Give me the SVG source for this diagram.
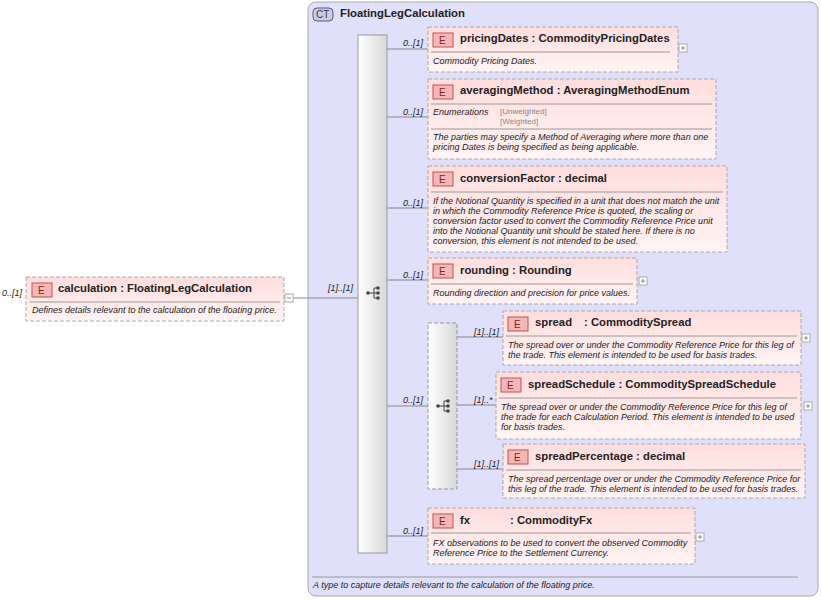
<svg xmlns="http://www.w3.org/2000/svg" width="821" height="600" viewBox="0 0 821 600">
<style>
text{font-family:"Liberation Sans",Arial,sans-serif;fill:#222}
.t{font-size:11.3px;font-weight:bold}
.d{font-size:9px;font-style:italic}
.m{font-size:9px;font-style:italic}
.en{font-size:8px;fill:#888}
.el{fill:url(#eg);stroke:#aaa;stroke-dasharray:4,2}
.eb{fill:#f3b7b7;stroke:#b55}
.ebt{font-size:10px;fill:#822;font-family:"Liberation Sans",sans-serif}
.sep{stroke:#999;stroke-width:1}
.c{stroke:#888;fill:none}
.pl{fill:#fff;stroke:#aaa}
</style>
<defs>
<linearGradient id="eg" x1="0" y1="0" x2="0" y2="1"><stop offset="0" stop-color="#fdd"/><stop offset="1" stop-color="#fff4f4"/></linearGradient>
<linearGradient id="sg" x1="0" y1="0" x2="1" y2="0"><stop offset="0" stop-color="#fff"/><stop offset="1" stop-color="#d8d8d8"/></linearGradient>
<g id="seqi"><circle cx="-6" cy="0" r="1.8" fill="#444"/><path d="M-6 0H0M0 -5V5M0 -5H4M0 0H4M0 5H4" stroke="#444" fill="none"/><circle cx="4" cy="-5" r="1.8" fill="#444"/><circle cx="4" cy="0" r="1.8" fill="#444"/><circle cx="4" cy="5" r="1.8" fill="#444"/></g>
<g id="plus"><rect x="0" y="0" width="8" height="8" class="pl"/><path d="M2 4H6M4 2V6" stroke="#888"/></g>
</defs>
<g id="ct">
<rect x="308" y="2" width="510" height="594" rx="8" fill="#e0e0fa" stroke="#aaa"/>
<rect x="313" y="8" width="20" height="13" rx="4" fill="#ccd" stroke="#558"/>
<text x="316" y="18" style="font-size:10px;fill:#336">CT</text>
<text x="340" y="17" class="t">FloatingLegCalculation</text>
<line x1="312" y1="577" x2="798" y2="577" class="sep"/>
<text x="313" y="588" class="d">A type to capture details relevant to the calculation of the floating price.</text>
</g>
<g id="connectors">
<path class="c" d="M293 298H358M387 49H428M387 117H428M387 208H428M387 280H428M387 406H428M387 536H428M457 337H503M457 405H496M457 469H503"/>
<text x="328" y="291" class="m">[1]..[1]</text>
<text x="403" y="46" class="m">0..[1]</text>
<text x="403" y="115" class="m">0..[1]</text>
<text x="403" y="206" class="m">0..[1]</text>
<text x="403" y="278" class="m">0..[1]</text>
<text x="403" y="403" class="m">0..[1]</text>
<text x="403" y="534" class="m">0..[1]</text>
<text x="474" y="335" class="m">[1]..[1]</text>
<text x="474" y="403" class="m">[1]..*</text>
<text x="474" y="467" class="m">[1]..[1]</text>
</g>
<g id="seq1"><rect x="358" y="35" width="29" height="518" fill="url(#sg)" stroke="#999"/><use href="#seqi" x="374" y="293"/></g>
<g id="seq2"><rect x="428" y="323" width="29" height="166" fill="url(#sg)" stroke="#999" stroke-dasharray="4,2"/><use href="#seqi" x="444" y="406"/></g>
<g id="calculation">
<text x="2" y="296" class="m">0..[1]</text>
<rect x="26" y="277" width="258" height="44" class="el"/>
<rect x="32" y="283" width="20" height="14" class="eb"/><text x="38" y="294" class="ebt">E</text>
<text x="58" y="292" class="t">calculation : FloatingLegCalculation</text>
<line x1="30" y1="302" x2="280" y2="302" class="sep"/>
<text x="32" y="313" class="d">Defines details relevant to the calculation of the floating price.</text>
<rect x="285" y="294" width="8" height="8" class="pl"/><path d="M287 298H291" stroke="#888"/>
</g>
<g id="pricingDates">
<rect x="428" y="27" width="250" height="45" class="el"/>
<rect x="433" y="33" width="20" height="14" class="eb"/><text x="439" y="44" class="ebt">E</text>
<text x="460" y="42" class="t">pricingDates : CommodityPricingDates</text>
<line x1="431" y1="52" x2="670" y2="52" class="sep"/>
<text x="433" y="64" class="d">Commodity Pricing Dates.</text>
<use href="#plus" x="679" y="44"/>
</g>
<g id="averagingMethod">
<rect x="428" y="79" width="288" height="80" class="el"/>
<rect x="433" y="85" width="20" height="14" class="eb"/><text x="439" y="96" class="ebt">E</text>
<text x="460" y="94" class="t">averagingMethod : AveragingMethodEnum</text>
<line x1="431" y1="104" x2="712" y2="104" class="sep"/>
<text x="433" y="115" class="d">Enumerations</text>
<text x="500" y="114" class="en">[Unweighted]</text><text x="500" y="124" class="en">[Weighted]</text>
<line x1="431" y1="129" x2="712" y2="129" class="sep"/>
<text x="433" y="140" class="d">The parties may specify a Method of Averaging where more than one</text>
<text x="433" y="150" class="d">pricing Dates is being specified as being applicable.</text>
</g>
<g id="conversionFactor">
<rect x="428" y="166" width="299" height="86" class="el"/>
<rect x="433" y="172" width="20" height="14" class="eb"/><text x="439" y="183" class="ebt">E</text>
<text x="460" y="182" class="t">conversionFactor : decimal</text>
<line x1="431" y1="192" x2="723" y2="192" class="sep"/>
<text x="433" y="204" class="d">If the Notional Quantity is specified in a unit that does not match the unit</text>
<text x="433" y="214" class="d">in which the Commodity Reference Price is quoted, the scaling or</text>
<text x="433" y="224" class="d">conversion factor used to convert the Commodity Reference Price unit</text>
<text x="433" y="234" class="d">into the Notional Quantity unit should be stated here. If there is no</text>
<text x="433" y="244" class="d">conversion, this element is not intended to be used.</text>
</g>
<g id="rounding">
<rect x="428" y="258" width="209" height="46" class="el"/>
<rect x="433" y="264" width="20" height="14" class="eb"/><text x="439" y="275" class="ebt">E</text>
<text x="460" y="274" class="t">rounding : Rounding</text>
<line x1="431" y1="284" x2="633" y2="284" class="sep"/>
<text x="433" y="296" class="d">Rounding direction and precision for price values.</text>
<use href="#plus" x="639" y="277"/>
</g>
<g id="spread">
<rect x="503" y="311" width="298" height="54" class="el"/>
<rect x="508" y="317" width="20" height="14" class="eb"/><text x="514" y="328" class="ebt">E</text>
<text x="535" y="326" class="t">spread</text><text x="584" y="326" class="t">: CommoditySpread</text>
<line x1="506" y1="336" x2="797" y2="336" class="sep"/>
<text x="508" y="348" class="d">The spread over or under the Commodity Reference Price for this leg of</text>
<text x="508" y="358" class="d">the trade. This element is intended to be used for basis trades.</text>
<use href="#plus" x="802" y="334"/>
</g>
<g id="spreadSchedule">
<rect x="496" y="372" width="305" height="67" class="el"/>
<rect x="501" y="378" width="20" height="14" class="eb"/><text x="507" y="389" class="ebt">E</text>
<text x="528" y="388" class="t">spreadSchedule : CommoditySpreadSchedule</text>
<line x1="499" y1="398" x2="797" y2="398" class="sep"/>
<text x="501" y="410" class="d">The spread over or under the Commodity Reference Price for this leg of</text>
<text x="501" y="420" class="d">the trade for each Calculation Period. This element is intended to be used</text>
<text x="501" y="430" class="d">for basis trades.</text>
<use href="#plus" x="804" y="402"/>
</g>
<g id="spreadPercentage">
<rect x="503" y="444" width="302" height="54" class="el"/>
<rect x="508" y="450" width="20" height="14" class="eb"/><text x="514" y="461" class="ebt">E</text>
<text x="535" y="460" class="t">spreadPercentage : decimal</text>
<line x1="506" y1="470" x2="801" y2="470" class="sep"/>
<text x="508" y="482" class="d">The spread percentage over or under the Commodity Reference Price for</text>
<text x="508" y="492" class="d">this leg of the trade. This element is intended to be used for basis trades.</text>
</g>
<g id="fx">
<rect x="428" y="508" width="267" height="56" class="el"/>
<rect x="433" y="514" width="20" height="14" class="eb"/><text x="439" y="525" class="ebt">E</text>
<text x="460" y="524" class="t">fx</text><text x="510" y="524" class="t">: CommodityFx</text>
<line x1="431" y1="533" x2="691" y2="533" class="sep"/>
<text x="433" y="546" class="d">FX observations to be used to convert the observed Commodity</text>
<text x="433" y="556" class="d">Reference Price to the Settlement Currency.</text>
<use href="#plus" x="696" y="533"/>
</g>
</svg>
